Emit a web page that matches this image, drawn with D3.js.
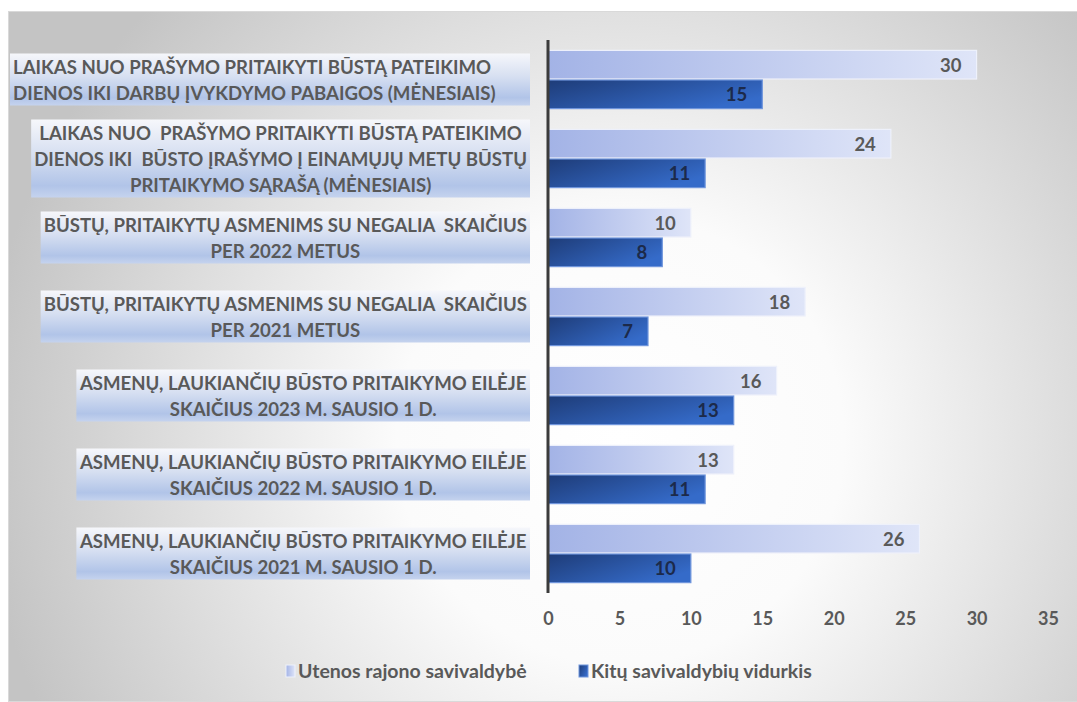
<!DOCTYPE html>
<html>
<head>
<meta charset="utf-8">
<script src="https://cdn.jsdelivr.net/npm/d3@7"></script>
<style>
  body { margin: 0; background: #fff; }
  svg text { font-family: Lato, "Open Sans", sans-serif; }
</style>
</head>
<body>
<script>
// chart data, top to bottom
var categories = [
  ["LAIKAS NUO PRAŠYMO PRITAIKYTI BŪSTĄ PATEIKIMO", "DIENOS IKI DARBŲ ĮVYKDYMO PABAIGOS (MĖNESIAIS)"],
  ["LAIKAS NUO  PRAŠYMO PRITAIKYTI BŪSTĄ PATEIKIMO", "DIENOS IKI  BŪSTO ĮRAŠYMO Į EINAMŲJŲ METŲ BŪSTŲ", "PRITAIKYMO SĄRAŠĄ (MĖNESIAIS)"],
  ["BŪSTŲ, PRITAIKYTŲ ASMENIMS SU NEGALIA  SKAIČIUS", "PER 2022 METUS"],
  ["BŪSTŲ, PRITAIKYTŲ ASMENIMS SU NEGALIA  SKAIČIUS", "PER 2021 METUS"],
  ["ASMENŲ, LAUKIANČIŲ BŪSTO PRITAIKYMO EILĖJE", "SKAIČIUS 2023 M. SAUSIO 1 D."],
  ["ASMENŲ, LAUKIANČIŲ BŪSTO PRITAIKYMO EILĖJE", "SKAIČIUS 2022 M. SAUSIO 1 D."],
  ["ASMENŲ, LAUKIANČIŲ BŪSTO PRITAIKYMO EILĖJE", "SKAIČIUS 2021 M. SAUSIO 1 D."]
];
var seriesNames = ["Utenos rajono savivaldybė", "Kitų savivaldybių vidurkis"];
var utena = [30, 24, 10, 18, 16, 13, 26];
var others = [15, 11, 8, 7, 13, 11, 10];
var xTicks = [0, 5, 10, 15, 20, 25, 30, 35];

var W = 1077, H = 702;
var svg = d3.select("body").append("svg")
    .attr("width", W)
    .attr("height", H);

var defs = svg.append("defs");

// panel background
var bg = defs.append("radialGradient").attr("id", "bg")
    .attr("gradientUnits", "userSpaceOnUse")
    .attr("cx", 620).attr("cy", 440).attr("r", 640);
bg.append("stop").attr("offset", "0%").attr("stop-color", "#ffffff");
bg.append("stop").attr("offset", "35%").attr("stop-color", "#fbfbfb");
bg.append("stop").attr("offset", "100%").attr("stop-color", "#c4c4c4");

var g1 = defs.append("linearGradient").attr("id", "lightBar");
g1.append("stop").attr("offset", "0%").attr("stop-color", "#a3b3e6");
g1.append("stop").attr("offset", "100%").attr("stop-color", "#dfe5f8");

var g2 = defs.append("linearGradient").attr("id", "darkBar")
    .attr("x1", "0%").attr("y1", "0%").attr("x2", "100%").attr("y2", "60%");
g2.append("stop").attr("offset", "0%").attr("stop-color", "#1e3c78");
g2.append("stop").attr("offset", "100%").attr("stop-color", "#356bc9");

var lb = defs.append("linearGradient").attr("id", "labelBox")
    .attr("x1", 0).attr("y1", 0).attr("x2", 0).attr("y2", 1);
lb.append("stop").attr("offset", "0%").attr("stop-color", "#f6f7fb");
lb.append("stop").attr("offset", "45%").attr("stop-color", "#d6dff1");
lb.append("stop").attr("offset", "85%").attr("stop-color", "#b1c4e8");
lb.append("stop").attr("offset", "100%").attr("stop-color", "#c5d3ee");

svg.append("rect")
    .attr("x", 8.5).attr("y", 11.5)
    .attr("width", W - 8).attr("height", H - 12)
    .attr("fill", "url(#bg)")
    .attr("stroke", "#d9d9d9");

var x = d3.scaleLinear().domain([0, 35]).range([548, 1048]);
var y = d3.scaleBand()
    .domain(d3.range(categories.length))
    .range([40, 593])
    .paddingInner(0.25)
    .paddingOuter(0.125);
var ySub = d3.scaleBand().domain([0, 1]).range([0, y.bandwidth()]);

var rows = categories.map(function(c, i) {
  return {lines: c, vals: [utena[i], others[i]], i: i};
});

// category labels in boxes; first box is wider with left aligned text
var lineH = 26, boxRight = 530;
var labelG = svg.selectAll(".cat").data(rows).enter().append("g").attr("class", "cat");
labelG.each(function(d) {
  var g = d3.select(this);
  var cy = y(d.i) + y.bandwidth() / 2;
  var box = g.append("rect");
  var t = g.append("text")
      .attr("fill", "#595959")
      .attr("font-size", 18.6)
      .attr("font-weight", "bold")
      .style("white-space", "pre");
  var n = d.lines.length;
  d.lines.forEach(function(l, k) {
    t.append("tspan")
      .attr("x", 0)
      .attr("y", cy + (k - (n - 1) / 2) * lineH + 7)
      .text(l);
  });
  var w = t.node().getBBox().width;
  var h = n * lineH;
  if (d.i === 0) {
    var left = 10;
    t.attr("text-anchor", "start").selectAll("tspan").attr("x", left + 3);
    box.attr("x", left).attr("width", boxRight - left);
  } else {
    t.attr("text-anchor", "middle").selectAll("tspan").attr("x", boxRight - w / 2 - 3);
    box.attr("x", boxRight - w - 6).attr("width", w + 6);
  }
  box.attr("y", cy - h / 2).attr("height", h)
     .attr("fill", "url(#labelBox)");
});

// bars
var groups = svg.selectAll(".row").data(rows).enter().append("g")
    .attr("transform", function(d) { return "translate(0," + y(d.i) + ")"; });

groups.selectAll("rect.bar")
    .data(function(d) { return d.vals.map(function(v, s) { return {v: v, s: s}; }); })
    .enter().append("rect")
    .attr("class", "bar")
    .attr("x", x(0))
    .attr("y", function(d) { return ySub(d.s) + 0.5; })
    .attr("width", function(d) { return x(d.v) - x(0); })
    .attr("height", ySub.bandwidth() - 1)
    .attr("fill", function(d) { return d.s === 0 ? "url(#lightBar)" : "url(#darkBar)"; })
    .attr("stroke", function(d) { return d.s === 0 ? "#eef1fb" : "#6f95dc"; })
    .attr("stroke-width", 1.2);

groups.selectAll("text.val")
    .data(function(d) { return d.vals.map(function(v, s) { return {v: v, s: s}; }); })
    .enter().append("text")
    .attr("class", "val")
    .attr("x", function(d) { return x(d.v) - 15; })
    .attr("y", function(d) { return ySub(d.s) + ySub.bandwidth() / 2 + 7; })
    .attr("text-anchor", "end")
    .attr("font-size", 18.5)
    .attr("font-weight", "bold")
    .attr("fill", function(d) { return d.s === 0 ? "#595959" : "#1c2a4a"; })
    .text(function(d) { return d.v; });

// vertical axis line
svg.append("line")
    .attr("x1", x(0)).attr("x2", x(0))
    .attr("y1", 40).attr("y2", 593)
    .attr("stroke", "#3b3b3b")
    .attr("stroke-width", 3);

// x axis ticks
var xAxis = svg.append("g")
    .attr("transform", "translate(0,612)")
    .call(d3.axisBottom(x).tickValues(xTicks).tickSize(0).tickPadding(0));
xAxis.select(".domain").remove();
xAxis.selectAll("text")
    .attr("dy", "0.71em")
    .attr("font-family", "Lato, sans-serif")
    .attr("font-size", 18)
    .attr("font-weight", "bold")
    .attr("fill", "#595959");

// legend
var legendX = [286, 579];
var legend = svg.selectAll(".legend").data(seriesNames).enter().append("g")
    .attr("class", "legend")
    .attr("transform", function(d, i) { return "translate(" + legendX[i] + ",665)"; });
legend.append("rect")
    .attr("width", 9).attr("height", 12)
    .attr("fill", function(d, i) { return i === 0 ? "url(#lightBar)" : "url(#darkBar)"; })
    .attr("stroke", function(d, i) { return i === 0 ? "#eef1fb" : "#6f95dc"; });
legend.append("text")
    .attr("x", 12).attr("y", 13)
    .attr("font-size", 19.5)
    .attr("font-weight", "bold")
    .attr("fill", "#595959")
    .text(function(d) { return d; });
</script>
</body>
</html>
